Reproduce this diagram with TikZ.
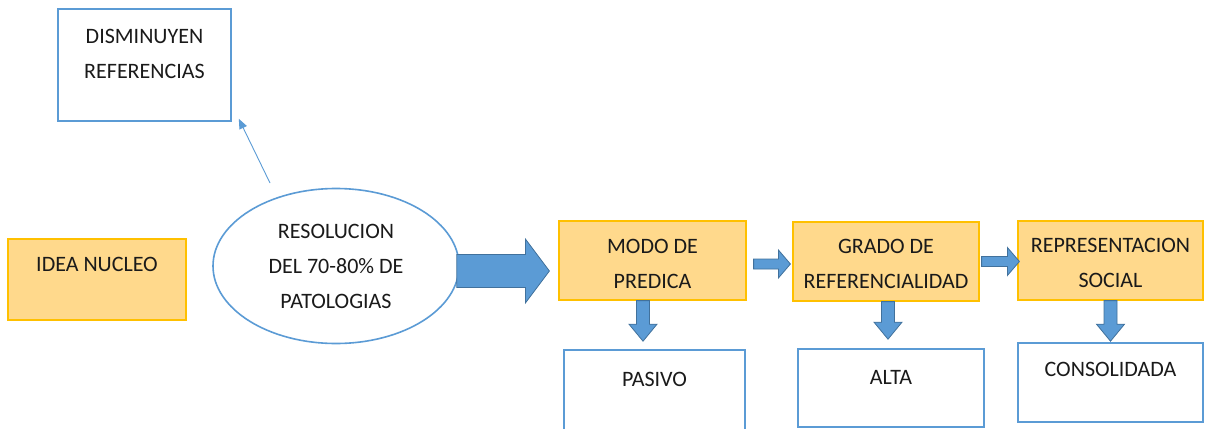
\documentclass[tikz,border=0pt]{standalone}
\usepackage{fontspec}
\setmainfont{Carlito}
\usetikzlibrary{arrows.meta, calc, shapes.geometric}
\definecolor{lineblue}{HTML}{5B9BD5}
\definecolor{darkblue}{HTML}{41719C}
\definecolor{goldline}{HTML}{FFC000}
\definecolor{goldfill}{HTML}{FFD98C}
\definecolor{inktext}{HTML}{1A1A1A}
\tikzset{
    txt/.style={font=\fontsize{22}{35}\selectfont, text=inktext, align=center, inner sep=0pt},
    box/.style={rectangle, inner sep=0pt},
    bluebox/.style={box, draw=lineblue, line width=1.6pt, fill=white},
    goldbox/.style={box, draw=goldline, line width=1.2pt, fill=goldfill},
    toptext/.style 2 args={label={[txt, anchor=north, yshift=-#1]north:{#2}}},
    thinarrow/.style={-{Triangle[length=10pt, width=8pt]}, line width=0.9pt, draw=lineblue},
    rblock/.style n args={3}{draw=darkblue, line width=0.8pt, fill=lineblue,
        to path={let \p1=(\tikztostart), \p2=(\tikztotarget) in
            (\x1,\y1+#1) -- (\x2-#3,\y1+#1) -- (\x2-#3,\y1+#2) -- (\x2,\y1)
            -- (\x2-#3,\y1-#2) -- (\x2-#3,\y1-#1) -- (\x1,\y1-#1) -- cycle}},
    dblock/.style n args={3}{draw=darkblue, line width=0.8pt, fill=lineblue,
        to path={let \p1=(\tikztostart), \p2=(\tikztotarget) in
            (\x1-#1,\y1) -- (\x1-#1,\y2+#3) -- (\x1-#2,\y2+#3) -- (\x1,\y2)
            -- (\x1+#2,\y2+#3) -- (\x1+#1,\y2+#3) -- (\x1+#1,\y1) -- cycle}}
}

\begin{document}
\begin{tikzpicture}[x=1pt, y=-1pt]
    \useasboundingbox (0,0) rectangle (1214,428);
    % left part
    \node[bluebox, minimum width=173pt, minimum height=112pt, toptext={21pt}{DISMINUYEN\\REFERENCIAS}] (dism) at (144.5,65) {};
    \node[goldbox, minimum width=178pt, minimum height=81pt, toptext={19pt}{IDEA NUCLEO}] (idea) at (97,279.5) {};
    \node[ellipse, draw=lineblue, line width=1.6pt, fill=white, minimum width=246pt, minimum height=155pt, txt] (res) at (336,266) {RESOLUCION\\DEL 70-80\% DE\\PATOLOGIAS};
    \coordinate (tail) at (270,183);
    \draw[thinarrow] (tail) -- ([xshift=7pt, yshift=3pt]dism.south east);
    % top row
    \node[goldbox, minimum width=187pt, minimum height=79pt, toptext={19pt}{MODO DE\\PREDICA}] (modo) at (652.5,260.5) {};
    \node[goldbox, minimum width=186pt, minimum height=79pt, toptext={18pt}{GRADO DE\\REFERENCIALIDAD}] (grado) at (886,261.5) {};
    \node[goldbox, minimum width=185pt, minimum height=79pt, toptext={18pt}{REPRESENTACION\\SOCIAL}] (repr) at (1110.5,260.5) {};
    % bottom row
    \node[bluebox, minimum width=181pt, minimum height=90pt, toptext={23pt}{PASIVO}] (pasivo) at (654.5,395) {};
    \node[bluebox, minimum width=186pt, minimum height=78pt, toptext={22pt}{ALTA}] (alta) at (891,388) {};
    \node[bluebox, minimum width=185pt, minimum height=79pt, toptext={20pt}{CONSOLIDADA}] (consol) at (1110.5,382.5) {};
    % block arrows
    \draw[rblock={16.5pt}{32pt}{24pt}] ([xshift=-3pt, yshift=-5pt]res.east) to ([xshift=-9pt]modo.west);
    \draw[rblock={5pt}{14pt}{12pt}] ([xshift=7pt, yshift=-3.5pt]modo.east) to ([xshift=-2pt]grado.west);
    \draw[rblock={5pt}{14pt}{12pt}] ([xshift=2pt]grado.east) to ([xshift=2pt]repr.west);
    \draw[dblock={6.5pt}{14pt}{17pt}] ([xshift=-9.5pt]modo.south) to ([yshift=8pt]pasivo.north);
    \draw[dblock={6.5pt}{14pt}{17pt}] ([xshift=2pt]grado.south) to ([yshift=9pt]alta.north);
    \draw[dblock={6.5pt}{14pt}{17pt}] (repr.south) to ([yshift=1pt]consol.north);
\end{tikzpicture}
\end{document}
